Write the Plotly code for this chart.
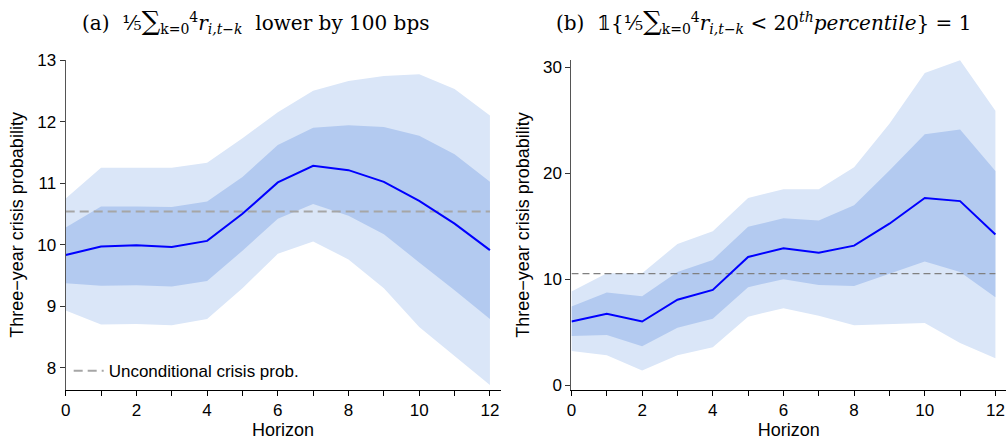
import plotly.graph_objects as go

horizon = list(range(13))
uncond = 10.54

a_mean = [9.83, 9.97, 9.99, 9.96, 10.06, 10.50, 11.01, 11.28, 11.21, 11.02, 10.71, 10.34, 9.91]
a_in_hi = [10.28, 10.62, 10.62, 10.61, 10.70, 11.10, 11.62, 11.90, 11.94, 11.91, 11.77, 11.47, 11.02]
a_in_lo = [9.37, 9.33, 9.34, 9.32, 9.41, 9.90, 10.42, 10.66, 10.47, 10.17, 9.71, 9.26, 8.79]
a_out_hi = [10.75, 11.25, 11.25, 11.25, 11.33, 11.73, 12.15, 12.50, 12.66, 12.74, 12.77, 12.53, 12.10]
a_out_lo = [8.93, 8.70, 8.71, 8.69, 8.79, 9.29, 9.85, 10.05, 9.76, 9.29, 8.66, 8.19, 7.72]

b_mean = [6.02, 6.75, 6.02, 8.07, 9.00, 12.10, 12.93, 12.50, 13.17, 15.24, 17.67, 17.37, 14.23]
b_in_hi = [7.43, 8.76, 8.39, 10.68, 11.83, 14.95, 15.76, 15.55, 16.97, 20.26, 23.67, 24.12, 20.20]
b_in_lo = [4.65, 4.74, 3.69, 5.42, 6.27, 9.25, 10.01, 9.46, 9.37, 10.53, 11.68, 10.68, 8.30]
b_out_hi = [8.85, 10.58, 10.58, 13.32, 14.54, 17.67, 18.49, 18.49, 20.57, 24.67, 29.44, 30.66, 25.88]
b_out_lo = [3.23, 2.83, 1.40, 2.83, 3.59, 6.48, 7.27, 6.57, 5.66, 5.75, 5.87, 3.99, 2.55]

x_tickvals = list(range(13))
x_ticktext = [str(v) if v % 2 == 0 else "" for v in x_tickvals]
a_yticks = [8, 9, 10, 11, 12, 13]
b_yticks = [0, 10, 20, 30]

LIGHT = "#dae6f8"
DARK = "#b3caf0"
LINE = "#0000ff"
W, H = 1006, 441

fig = go.Figure()

def add_panel(xa, ya, mean, in_hi, in_lo, out_hi, out_lo, dash_color, dash, dash_w, legend):
    fig.add_trace(go.Scatter(x=horizon, y=out_lo, mode="lines", line=dict(width=0), showlegend=False,
                             hoverinfo="skip", xaxis=xa, yaxis=ya))
    fig.add_trace(go.Scatter(x=horizon, y=out_hi, mode="lines", line=dict(width=0), fill="tonexty",
                             fillcolor=LIGHT, showlegend=False, hoverinfo="skip", xaxis=xa, yaxis=ya))
    fig.add_trace(go.Scatter(x=horizon, y=in_lo, mode="lines", line=dict(width=0), showlegend=False,
                             hoverinfo="skip", xaxis=xa, yaxis=ya))
    fig.add_trace(go.Scatter(x=horizon, y=in_hi, mode="lines", line=dict(width=0), fill="tonexty",
                             fillcolor=DARK, showlegend=False, hoverinfo="skip", xaxis=xa, yaxis=ya))
    fig.add_trace(go.Scatter(x=[0, 12], y=[uncond, uncond], mode="lines",
                             line=dict(color=dash_color, dash=dash, width=dash_w),
                             name="Unconditional crisis prob.", showlegend=legend, xaxis=xa, yaxis=ya))
    fig.add_trace(go.Scatter(x=horizon, y=mean, mode="lines", line=dict(color=LINE, width=2),
                             showlegend=False, xaxis=xa, yaxis=ya))

add_panel("x", "y", a_mean, a_in_hi, a_in_lo, a_out_hi, a_out_lo, "#a6a6a6", "9px,5px", 2, True)
add_panel("x2", "y2", b_mean, b_in_hi, b_in_lo, b_out_hi, b_out_lo, "#808080", "7px,4px", 1.3, False)

tick_font = dict(family="Liberation Sans, Arial, sans-serif", size=17, color="black")
title_font_ax = dict(family="Liberation Sans, Arial, sans-serif", size=18, color="black")
ydom = [1 - 393.3 / H, 1 - 52.7 / H]

common_x = dict(range=[0, 12.3], tickmode="array", tickvals=x_tickvals, ticktext=x_ticktext,
                showline=True, linecolor="black", linewidth=1, ticks="outside", ticklen=5,
                tickcolor="black", showgrid=False, zeroline=False, tickfont=tick_font,
                title=dict(text="Horizon", font=title_font_ax, standoff=0))
common_y = dict(showline=True, linecolor="#555555", linewidth=1.2, ticks="outside", ticklen=5,
                tickcolor="#333333", showgrid=False, zeroline=False, tickfont=tick_font,
                title=dict(text="Three\u2212year crisis probability", font=title_font_ax, standoff=8))

fig.update_layout(
    width=W, height=H, margin=dict(l=0, r=0, t=0, b=0),
    paper_bgcolor="white", plot_bgcolor="white",
    xaxis=dict(domain=[61 / W, 498 / W], anchor="y", **common_x),
    xaxis2=dict(domain=[569.3 / W, 1.0], anchor="y2", **common_x),
    yaxis=dict(domain=ydom, anchor="x", range=[7.64, 13.0], tickvals=a_yticks, **common_y),
    yaxis2=dict(domain=ydom, anchor="x2", range=[-0.42, 30.67], tickvals=b_yticks, **common_y),
    legend=dict(x=64 / W, y=1 - 374 / H, xanchor="left", yanchor="middle", bgcolor="rgba(0,0,0,0)",
                font=tick_font),
    showlegend=True,
)

title_font = dict(family="DejaVu Serif, Liberation Serif, serif", size=20, color="black")
SUM = "<span style='font-size:26px'>\u2211</span>"
fig.add_annotation(
    text="(a)  \u2155" + SUM + "<sub>k=0</sub><sup>4</sup><i>r</i><sub><i>i,t\u2212k</i></sub>  lower by 100 bps",
    x=252 / W, y=1 - 13 / H, xref="paper", yref="paper", xanchor="center", yanchor="middle",
    showarrow=False, font=title_font)
fig.add_annotation(
    text="(b)  \U0001D7D9{\u2155" + SUM + "<sub>k=0</sub><sup>4</sup><i>r</i><sub><i>i,t\u2212k</i></sub> &lt; 20<sup><i>th</i></sup><i>percentile</i>} = 1",
    x=762 / W, y=1 - 13 / H, xref="paper", yref="paper", xanchor="center", yanchor="middle",
    showarrow=False, font=title_font)

fig.write_html("out.html")
